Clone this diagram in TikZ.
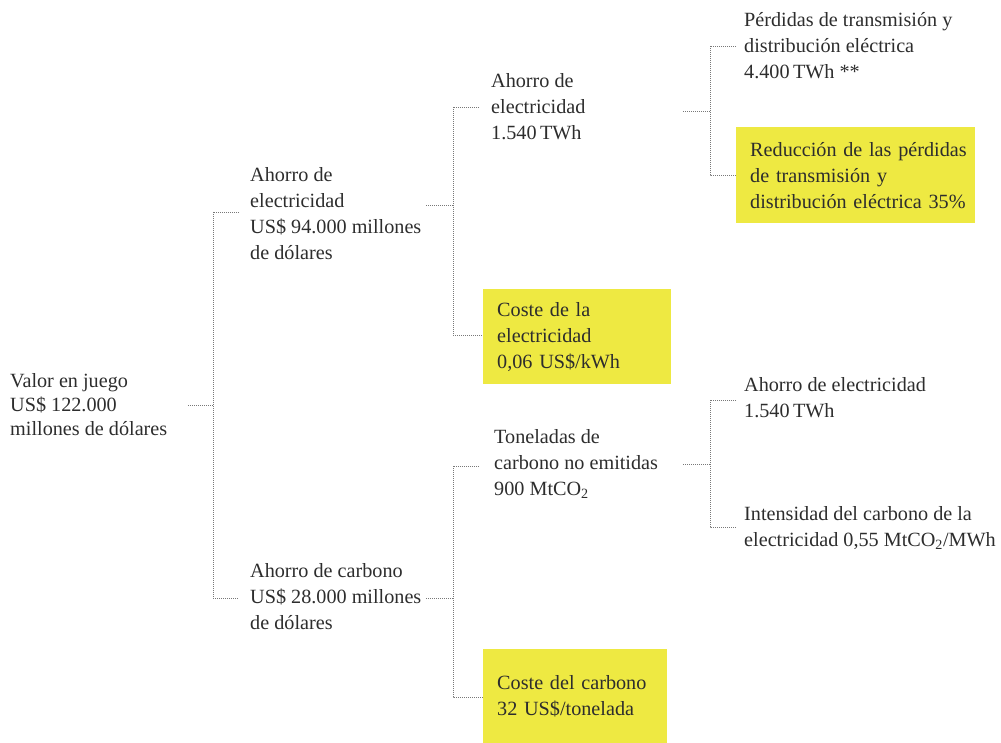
\documentclass[tikz,border=0pt]{standalone}
\usepackage{fontspec}
\setmainfont{Liberation Serif}
\definecolor{txt}{RGB}{45,45,45}
\definecolor{hl}{RGB}{238,233,66}
\definecolor{dots}{RGB}{120,120,120}
\tikzset{
  lbl/.style={anchor=west, align=left, inner sep=0pt, text=txt, font=\fontsize{20.2}{26}\selectfont},
  hbox/.style={anchor=north west, fill=hl, inner xsep=14pt, inner ysep=0pt, align=left, text=txt, font=\fontsize{20.2}{26}\selectfont},
  conn/.style={draw=dots, line width=0.9pt, dash pattern=on 1pt off 1pt},
}
\begin{document}
\begin{tikzpicture}[x=1pt,y=-1pt]
\useasboundingbox (0,0) rectangle (1001,743);
% nodes
\node[lbl, font=\fontsize{20.2}{24}\selectfont] (root) at (10,405) {Valor en juego\\US\$ 122.000\\millones de dólares};
\node[lbl] (ae) at (250,214) {Ahorro de\\electricidad\\US\$ 94.000 millones\\de dólares};
\node[lbl] (ac) at (250,597) {Ahorro de carbono\\US\$ 28.000 millones\\de dólares};
\node[lbl] (ae2) at (491,107) {Ahorro de\\electricidad\\1.540\,TWh};
\node[hbox, text width=160pt, minimum height=95pt] (ce) at (483,289) {\mbox{Coste de la}\\\mbox{electricidad}\\\mbox{0,06 US\$/kWh}};
\node[lbl] (tc) at (494,464) {Toneladas de\\carbono no emitidas\\900 MtCO\textsubscript{2}};
\node[hbox, text width=156pt, minimum height=94pt] (cc) at (483,649) {\mbox{Coste del carbono}\\\mbox{32 US\$/tonelada}};
\node[lbl] (pt) at (744,46) {Pérdidas de transmisión y\\distribución eléctrica\\4.400\,TWh **};
\node[hbox, text width=211pt, minimum height=96pt] (rp) at (736,127) {\mbox{Reducción de las pérdidas}\\\mbox{de transmisión y}\\\mbox{distribución eléctrica 35\%}};
\node[lbl] (ae3) at (744,398) {Ahorro de electricidad\\1.540\,TWh};
\node[lbl] (ic) at (744,528) {Intensidad del carbono de la\\electricidad 0,55 MtCO\textsubscript{2}/MWh};
% junction coordinates
\coordinate (s0) at (188,405); \coordinate (j0) at (213,405);
\coordinate (j0t) at (213,212); \coordinate (j0b) at (213,598);
\coordinate (e0t) at (239,212); \coordinate (e0b) at (239,598);
\coordinate (s1) at (426,205); \coordinate (j1) at (453,205);
\coordinate (j1t) at (453,107); \coordinate (j1b) at (453,335);
\coordinate (e1t) at (479,107); \coordinate (e1b) at (483,335);
\coordinate (s2) at (426,598); \coordinate (j2) at (453,598);
\coordinate (j2t) at (453,466); \coordinate (j2b) at (453,697);
\coordinate (e2t) at (479,466); \coordinate (e2b) at (483,697);
\coordinate (s3) at (683,111); \coordinate (j3) at (710,111);
\coordinate (j3t) at (710,46); \coordinate (j3b) at (710,175);
\coordinate (e3t) at (736,46); \coordinate (e3b) at (736,175);
\coordinate (s4) at (683,464); \coordinate (j4) at (710,464);
\coordinate (j4t) at (710,400); \coordinate (j4b) at (710,527);
\coordinate (e4t) at (736,400); \coordinate (e4b) at (736,527);
% connectors
\draw[conn] (s0) -- (j0);
\draw[conn] (e0t) -- (j0t) -- (j0b) -- (e0b);
\draw[conn] (s1) -- (j1);
\draw[conn] (e1t) -- (j1t) -- (j1b) -- (e1b);
\draw[conn] (s2) -- (j2);
\draw[conn] (e2t) -- (j2t) -- (j2b) -- (e2b);
\draw[conn] (s3) -- (j3);
\draw[conn] (e3t) -- (j3t) -- (j3b) -- (e3b);
\draw[conn] (s4) -- (j4);
\draw[conn] (e4t) -- (j4t) -- (j4b) -- (e4b);
\end{tikzpicture}
\end{document}
